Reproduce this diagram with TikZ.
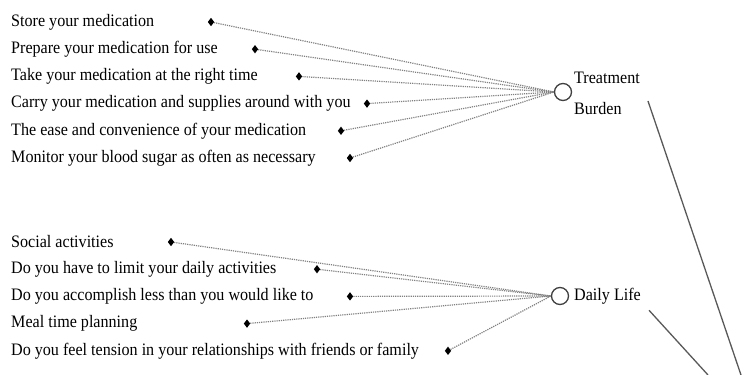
\documentclass[tikz,border=0pt]{standalone}
\usepackage{fontspec}
\setmainfont[FakeStretch=0.92]{Liberation Serif}
\usetikzlibrary{shapes.geometric}
\tikzset{
  item/.style={anchor=west,inner sep=0pt,font=\fontsize{17.5}{19}\selectfont},
  puce/.style={diamond,fill=black,inner sep=0pt,minimum width=6.5pt,minimum height=8.5pt},
  rond/.style={circle,draw=black!75,line width=1.3pt,minimum size=17pt,inner sep=0pt},
  lien/.style={densely dotted,line width=1.2pt,black!50},
  trait/.style={line width=1.3pt,black!65}
}
\begin{document}
\begin{tikzpicture}[x=1pt,y=-1pt]
  \pgfmathsetmacro{\gauche}{11}
  \pgfmathsetmacro{\hauta}{22}
  \pgfmathsetmacro{\hautb}{242}
  \pgfmathsetmacro{\ecart}{27.2}
  \useasboundingbox (0,0) rectangle (745,375);
  \node[rond] (tb) at (563,92) {};
  \node[rond] (dl) at (560,296) {};
  \node[item,font=\fontsize{17.5}{31}\selectfont,align=left] (tbl) at (574,93) {Treatment\\Burden};
  \node[item] (dll) at (574,296) {Daily Life};
  \foreach \txt/\px [count=\i] in {Store your medication/211,
      Prepare your medication for use/255,
      Take your medication at the right time/299,
      Carry your medication and supplies around with you/367,
      The ease and convenience of your medication/341,
      Monitor your blood sugar as often as necessary/350} {
    \node[item] (qa\i) at (\gauche,\hauta+\ecart*\i-\ecart) {\txt};
    \node[puce] (pa\i) at (\px,\hauta+\ecart*\i-\ecart) {};
    \draw[lien] (pa\i) -- (tb.west);
  }
  \foreach \txt/\px [count=\i] in {Social activities/171,
      Do you have to limit your daily activities/317,
      Do you accomplish less than you would like to/350,
      Meal time planning/247,
      Do you feel tension in your relationships with friends or family/448} {
    \node[item] (qb\i) at (\gauche,\hautb+\ecart*\i-\ecart) {\txt};
    \node[puce] (pb\i) at (\px,\hautb+\ecart*\i-\ecart) {};
    \draw[lien] (pb\i) -- (dl.west);
  }
  \coordinate (fina) at (741,375);
  \coordinate (finb) at (708,375);
  \draw[trait] ([xshift=8pt,yshift=-8pt]tbl.east) -- (fina);
  \draw[trait] ([xshift=8pt,yshift=-6pt]dll.south east) -- (finb);
\end{tikzpicture}
\end{document}
